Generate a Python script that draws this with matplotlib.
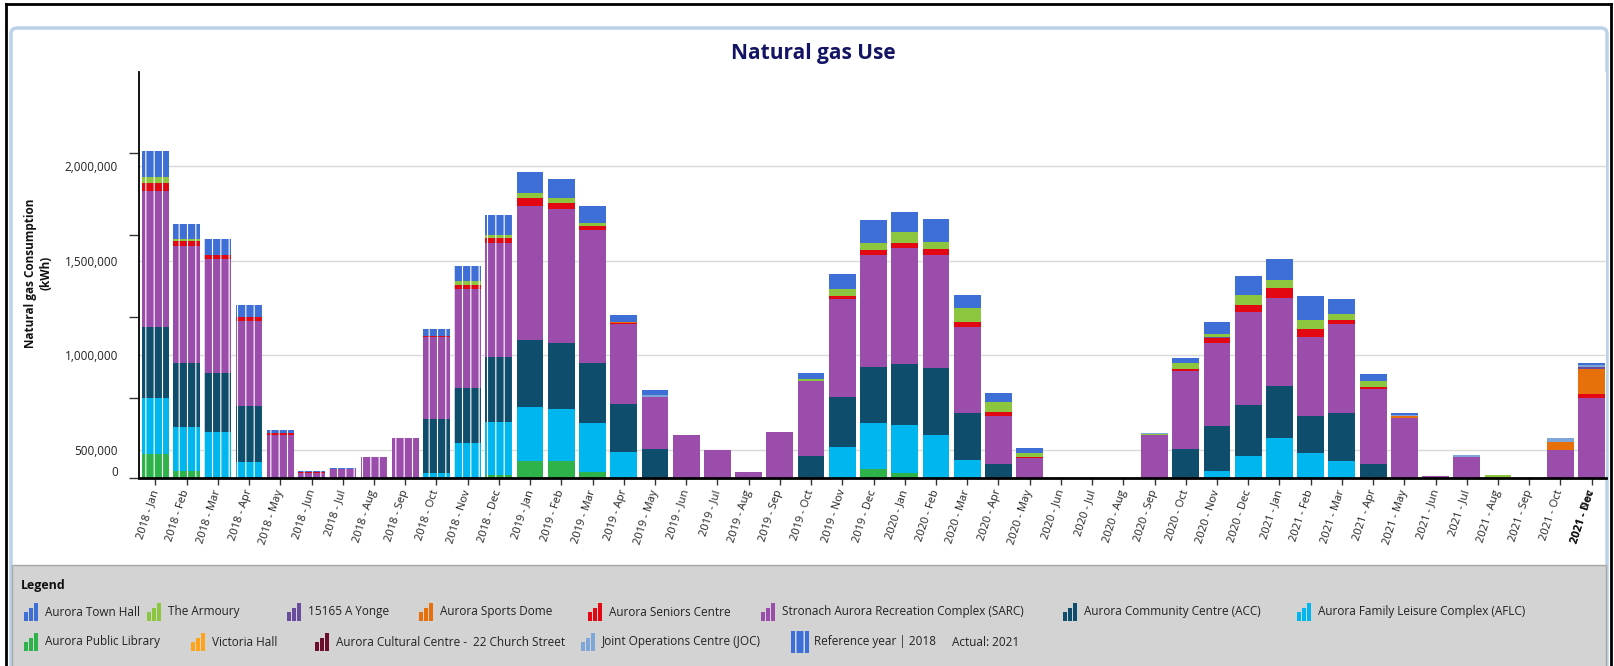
import numpy as np
import matplotlib.pyplot as plt
from matplotlib.patches import Rectangle, FancyBboxPatch

plt.rcParams['font.family'] = ['Open Sans', 'DejaVu Sans']
plt.rcParams['hatch.linewidth'] = 0.8

W, H = 1614, 666

# months shown on the x axis (2018 - Jan ... 2021 - Nov)
years = [2018] * 12 + [2019] * 12 + [2020] * 12 + [2021] * 11
month_names = ["Jan", "Feb", "Mar", "Apr", "May", "Jun",
               "Jul", "Aug", "Sep", "Oct", "Nov", "Dec"]
months = month_names * 3 + month_names[:11]
labels = [f"{y} - {m}" for y, m in zip(years, months)]

# consumption per building, thousands of kWh
library_k = [123, 32, 4, 0, 0, 0, 0, 0, 0, 0, 0, 14,
             88, 85, 28, 0, 0, 0, 0, 0, 0, 0, 0, 44,
             25, 0, 0, 0, 0, 0, 0, 0, 0, 0, 0, 0,
             0, 0, 0, 0, 0, 0, 0, 0, 0, 0, 0]
aflc_k = [300, 233, 236, 83, 0, 0, 0, 0, 0, 26, 180, 277,
          286, 277, 259, 136, 0, 0, 0, 0, 0, 0, 162, 242,
          252, 226, 92, 0, 0, 0, 0, 0, 0, 0, 35, 115,
          208, 129, 85, 0, 0, 0, 0, 0, 0, 0, 0]
acc_k = [374, 340, 314, 295, 0, 0, 0, 0, 0, 286, 296, 347,
         353, 351, 318, 252, 150, 0, 0, 0, 0, 115, 265, 296,
         323, 353, 247, 71, 0, 0, 0, 0, 0, 153, 238, 270,
         277, 196, 254, 74, 0, 0, 0, 0, 0, 0, 0]
sarc_k = [720, 621, 600, 452, 226, 22, 46, 106, 208, 429, 520, 600,
          711, 706, 704, 423, 277, 226, 145, 28, 243, 393, 517, 596,
          614, 600, 459, 256, 102, 0, 0, 0, 224, 411, 441, 489,
          467, 420, 473, 393, 314, 9, 109, 0, 0, 146, 423]
seniors_k = [39, 26, 23, 21, 7, 6, 0, 0, 0, 5, 23, 28,
             39, 32, 21, 7, 0, 0, 0, 0, 0, 0, 18, 26,
             26, 28, 26, 21, 9, 0, 0, 0, 0, 9, 23, 41,
             49, 41, 23, 14, 0, 0, 0, 0, 0, 0, 18]
dome_k = [0, 0, 0, 0, 0, 0, 0, 0, 0, 4, 0, 0,
          0, 0, 0, 5, 0, 0, 0, 0, 0, 5, 0, 0,
          0, 0, 0, 0, 0, 0, 0, 0, 0, 0, 0, 0,
          0, 0, 0, 0, 9, 0, 0, 0, 0, 42, 132]
yonge_k = [0, 0, 0, 0, 0, 0, 0, 0, 0, 0, 0, 0,
           0, 0, 0, 0, 0, 0, 0, 0, 0, 0, 0, 0,
           0, 0, 0, 0, 0, 0, 0, 0, 0, 0, 7, 0,
           0, 0, 0, 0, 0, 0, 0, 0, 0, 0, 9]
cultural_k = [0] * 47
victoria_k = [0, 0, 0, 0, 0, 0, 0, 0, 0, 0, 0, 0,
              0, 0, 0, 0, 0, 0, 0, 0, 0, 0, 0, 0,
              0, 0, 0, 0, 0, 0, 0, 0, 0, 0, 0, 0,
              0, 0, 0, 0, 0, 0, 0, 5, 0, 0, 0]
armoury_k = [32, 9, 0, 0, 0, 0, 0, 0, 0, 0, 18, 18,
             26, 25, 18, 0, 0, 0, 0, 0, 0, 7, 35, 39,
             56, 37, 71, 49, 16, 0, 0, 0, 7, 32, 16, 48,
             44, 49, 30, 30, 0, 0, 0, 9, 0, 0, 0]
joc_k = [0, 0, 0, 0, 0, 0, 0, 0, 0, 0, 0, 0,
         0, 0, 0, 0, 11, 0, 0, 0, 0, 0, 0, 0,
         0, 0, 0, 0, 0, 0, 0, 0, 7, 0, 0, 0,
         0, 0, 0, 0, 7, 0, 11, 0, 0, 19, 14]
townhall_k = [141, 79, 83, 62, 18, 7, 3, 0, 0, 35, 83, 106,
              111, 104, 90, 37, 25, 0, 0, 0, 0, 32, 79, 118,
              106, 123, 71, 48, 28, 0, 0, 0, 0, 26, 62, 101,
              113, 123, 79, 35, 10, 0, 0, 0, 0, 0, 12]

# stacking order, bottom to top
stack = [
    ("Aurora Public Library", library_k, "#2db34a"),
    ("Aurora Family Leisure Complex (AFLC)", aflc_k, "#00b6ef"),
    ("Aurora Community Centre (ACC)", acc_k, "#0e4d6b"),
    ("Stronach Aurora Recreation Complex (SARC)", sarc_k, "#9b4dab"),
    ("Aurora Seniors Centre", seniors_k, "#e30613"),
    ("Aurora Sports Dome", dome_k, "#e8700a"),
    ("15165 A Yonge", yonge_k, "#6a4c9c"),
    ("Aurora Cultural Centre -  22 Church Street", cultural_k, "#6b0e2e"),
    ("Victoria Hall", victoria_k, "#ffa31a"),
    ("The Armoury", armoury_k, "#8cc63e"),
    ("Joint Operations Centre (JOC)", joc_k, "#7ea6d8"),
    ("Aurora Town Hall", townhall_k, "#3d6fd6"),
]
colors = {name: c for name, _, c in stack}

# the chart's y labels sit 354,000 above the true bar scale
tick_values = [500000, 1000000, 1500000, 2000000]
axis_offset = 354000
reference_year = 2018

fig = plt.figure(figsize=(W / 100, H / 100), dpi=100)
fig.patch.set_facecolor("white")

# background frame / legend panel, in pixel coordinates
bg = fig.add_axes([0, 0, 1, 1], zorder=0)
bg.set_xlim(0, W)
bg.set_ylim(H, 0)
bg.axis("off")
bg.add_patch(FancyBboxPatch((11, 28), 1596, 660, boxstyle="round,pad=0,rounding_size=6",
                            facecolor="white", edgecolor="#bcd2e8", lw=2.5))
bg.add_patch(Rectangle((12, 565), 1594, 110, facecolor="#d3d3d3", edgecolor="#a8a8a8", lw=1))
bg.plot([6, 1611], [4, 4], color="black", lw=2)
bg.plot([6, 6], [4, H], color="black", lw=2)
bg.plot([1611, 1611], [4, H], color="black", lw=2)

bg.text(21, 585, "Legend", fontsize=9, fontweight="bold", va="center", color="#111111")


def legend_icon(x, yc, color):
    for i, h in enumerate([9, 13, 18]):
        bg.add_patch(Rectangle((x + i * 5, yc + 9 - h), 4, h, facecolor=color, edgecolor="none"))


row1, row2 = 612, 642
entries = [
    (45, row1, "Aurora Town Hall"),
    (168, row1, "The Armoury"),
    (308, row1, "15165 A Yonge"),
    (440, row1, "Aurora Sports Dome"),
    (609, row1, "Aurora Seniors Centre"),
    (782, row1, "Stronach Aurora Recreation Complex (SARC)"),
    (1084, row1, "Aurora Community Centre (ACC)"),
    (1318, row1, "Aurora Family Leisure Complex (AFLC)"),
    (45, row2, "Aurora Public Library"),
    (212, row2, "Victoria Hall"),
    (336, row2, "Aurora Cultural Centre -  22 Church Street"),
    (602, row2, "Joint Operations Centre (JOC)"),
]
for tx, yc, name in entries:
    legend_icon(tx - 21, yc, colors[name])
    bg.text(tx, yc, name, fontsize=8.5, va="center", color="#222222")

bg.add_patch(Rectangle((791, row2 - 11), 18, 22, facecolor="#3d6fd6", edgecolor="white",
                       lw=0, hatch="||"))
bg.text(814, row2, f"Reference year | {reference_year}", fontsize=8.5, va="center", color="#222222")
bg.text(952, row2, "Actual: 2021", fontsize=8.5, va="center", color="#222222")

fig.text(813 / W, 1 - 54 / H, "Natural gas Use", ha="center", va="center",
         fontsize=15, fontweight="bold", color="#141464")
fig.text(38 / W, 1 - 273 / H, "Natural gas Consumption\n(kWh)", rotation=90,
         ha="center", va="center", fontsize=8.5, fontweight="bold",
         multialignment="center", color="#111111")

# main chart
left, right, top, base = 139, 1606, 72, 477.5
ax = fig.add_axes([left / W, 1 - base / H, (right - left) / W, (base - top) / H], zorder=1)
x = np.arange(len(labels))
bottom = np.zeros(len(labels))
is_ref = np.array(years) == reference_year
for name, vals, color in stack:
    v = np.array(vals, dtype=float) * 1000
    ax.bar(x[~is_ref], v[~is_ref], 0.86, bottom=bottom[~is_ref], color=color, edgecolor="none", zorder=2)
    ax.bar(x[is_ref], v[is_ref], 0.86, bottom=bottom[is_ref], color=color, edgecolor="white",
           lw=0, hatch="||", zorder=2)
    bottom += v

ax.set_xlim(-0.525, 46.46)
ax.set_ylim(0, 2145000)

for s in ["top", "right"]:
    ax.spines[s].set_visible(False)
ax.spines["left"].set_linewidth(1.3)
ax.spines["bottom"].set_linewidth(2)

ytick_pos = [34000] + [t - axis_offset for t in tick_values]
ytick_lab = ["0"] + [f"{t:,}" for t in tick_values]
ax.set_yticks(ytick_pos, ytick_lab)
ax.set_yticks([0, 423000, 850000, 1284000, 1715000], minor=True)
ax.tick_params(axis="y", which="major", length=0, pad=15, labelsize=8.5, labelcolor="#222222")
ax.tick_params(axis="y", which="minor", length=7, width=1, color="#333333")
ax.grid(axis="y", color="#d9d9d9", lw=1, zorder=0)
ax.yaxis.get_gridlines()[0].set_visible(False)
ax.set_axisbelow(True)

ax.set_xticks(x)
ax.set_xticklabels(labels, rotation=72, ha="right", va="center", rotation_mode="anchor",
                   fontsize=8, color="#222222")
ax.tick_params(axis="x", length=5, width=1, color="#333333", pad=4)
ax.annotate("2021 - Dec", xy=(x[-1], 0), xycoords=("data", "axes fraction"),
            xytext=(0, -9), textcoords="offset points", rotation=72, ha="right",
            va="center", rotation_mode="anchor", fontsize=8, fontweight="bold", color="#111111")

fig.savefig("out.png", dpi=100)
